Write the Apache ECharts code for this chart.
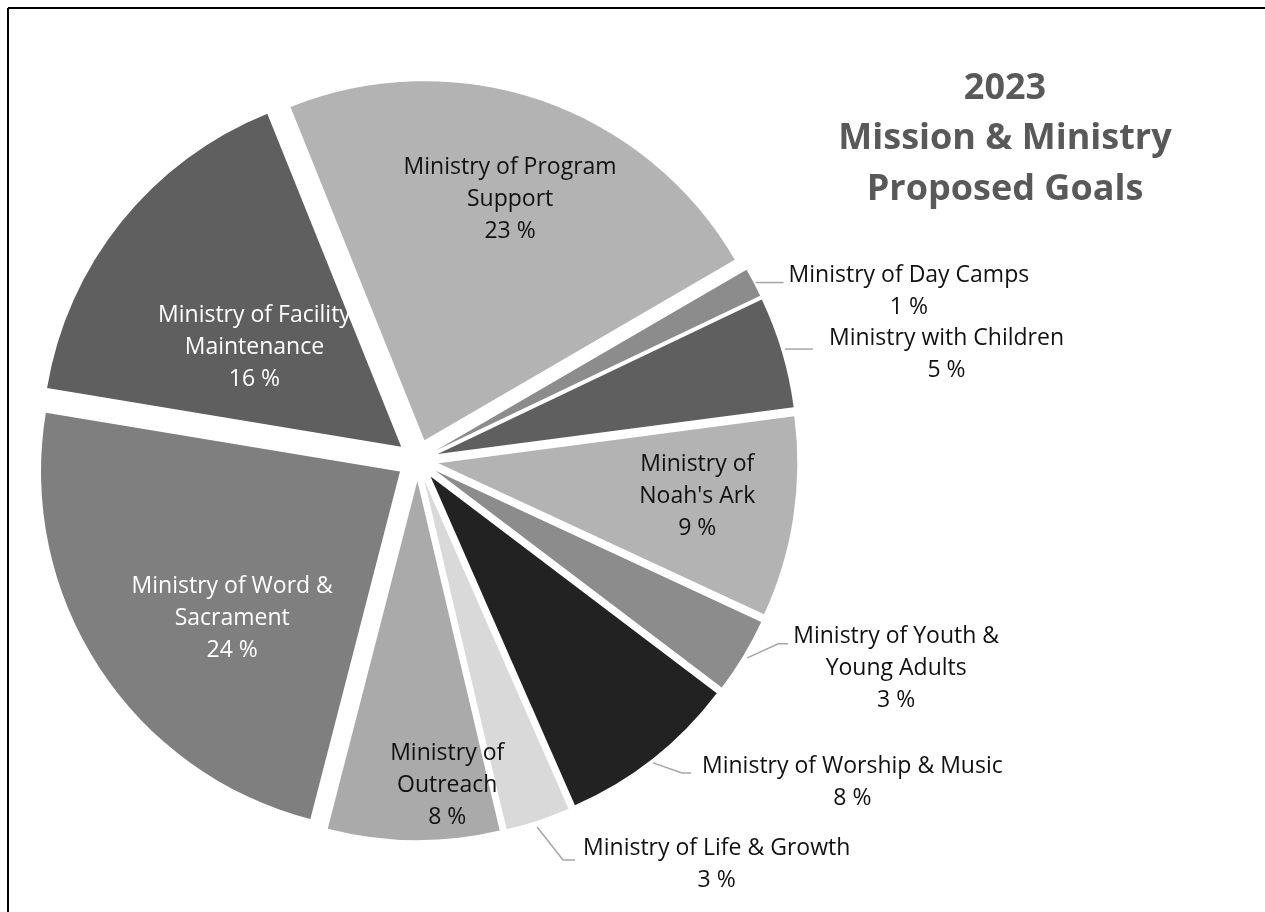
<!DOCTYPE html>
<html>
<head>
<meta charset="utf-8">
<script src="https://cdn.jsdelivr.net/npm/echarts@6/dist/echarts.min.js"></script>
<style>
html,body{margin:0;padding:0;background:#fff;}
#chart{width:1265px;height:912px;}
</style>
</head>
<body>
<div id="chart"></div>
<script>
// ---------- data ----------
const categories = [
  'Ministry of Program Support',
  'Ministry of Day Camps',
  'Ministry with Children',
  "Ministry of Noah's Ark",
  'Ministry of Youth & Young Adults',
  'Ministry of Worship & Music',
  'Ministry of Life & Growth',
  'Ministry of Outreach',
  'Ministry of Word & Sacrament',
  'Ministry of Facility Maintenance'
];
const values = [22.7, 1.3, 5.0, 9.0, 3.4, 8.1, 2.9, 7.7, 23.6, 16.3];
const labelLines = [
  'Ministry of Program\nSupport',
  'Ministry of Day Camps',
  'Ministry with Children',
  "Ministry of\nNoah's Ark",
  'Ministry of Youth &\nYoung Adults',
  'Ministry of Worship & Music',
  'Ministry of Life & Growth',
  'Ministry of\nOutreach',
  'Ministry of Word &\nSacrament',
  'Ministry of Facility\nMaintenance'
];
const titleLines = ['2023', 'Mission & Ministry', 'Proposed Goals'];

// ---------- styling / layout ----------
const sliceColors = ['#b3b3b3','#8c8c8c','#5f5f5f','#b3b3b3','#8c8c8c','#222222','#d9d9d9','#aaaaaa','#7f7f7f','#5f5f5f'];
const labelColors = ['#111','#111','#111','#111','#111','#111','#111','#111','#fff','#fff'];
const PIE = { cx: 417.6, cy: 460, r: 359, explode: 21, startAngle: 111.9 };
const FONT = 'Open Sans';
// inside labels: [distance along bisector from slice apex, sideways offset]
const insidePlacement = { 0: [255, -3], 3: [261, 6], 7: [304, 33], 8: [221, 32], 9: [177, 14] };
// outside labels: offsets from the outer arc point on the bisector
const outsidePlacement = {
  1: { start: [2, 0],   elbow: [2, 0],    end: [30, 0],    textLeft: 35, textMid: 8.5 },
  2: { start: [3, -3],  elbow: [3, -3],   end: [31, -3],   textLeft: 47, textMid: 2 },
  4: { start: [4, 2],   elbow: [35, -12], end: [45, -12],  textLeft: 50, textMid: 12.7 },
  5: { start: [0, 4.6], elbow: [29, 14.6],end: [38, 14.6], textLeft: 49, textMid: 24 },
  6: { start: [-1, 6.6],elbow: [25, 39.6],end: [37, 39.6], textLeft: 45, textMid: 43.6 }
};

// ---------- geometry derived from the data ----------
const total = values.reduce((a, b) => a + b, 0);
const RAD = Math.PI / 180;
const mids = [];
(function () {
  let cum = 0;
  values.forEach(v => { mids.push((PIE.startAngle - 360 * (cum + v / 2) / total) * RAD); cum += v; });
})();
const unit = i => [Math.cos(mids[i]), -Math.sin(mids[i])];
const apex = i => { const u = unit(i); return [PIE.cx + PIE.explode * u[0], PIE.cy + PIE.explode * u[1]]; };

function layoutLabel(k, params) {
  if (params.dataIndex !== k) return {};
  const u = unit(k), a = apex(k);
  const w = params.labelRect.width;
  if (insidePlacement[k]) {
    const [along, across] = insidePlacement[k];
    const p = [u[1], -u[0]];
    return {
      x: a[0] + along * u[0] + across * p[0],
      y: a[1] + along * u[1] + across * p[1],
      align: 'center', verticalAlign: 'middle'
    };
  }
  const o = outsidePlacement[k];
  const A = [a[0] + PIE.r * u[0], a[1] + PIE.r * u[1]];
  const pts = [o.start, o.elbow, o.end].map(d => [A[0] + d[0], A[1] + d[1]]);
  return {
    x: A[0] + o.textLeft + w / 2,
    y: A[1] + o.textMid,
    align: 'center', verticalAlign: 'middle',
    labelLinePoints: pts
  };
}

const series = values.map((_, k) => ({
  type: 'pie',
  center: apex(k),
  radius: PIE.r,
  startAngle: PIE.startAngle,
  clockwise: true,
  avoidLabelOverlap: false,
  silent: true,
  animation: false,
  percentPrecision: 0,
  z: 2,
  itemStyle: { borderWidth: 0 },
  emphasis: { disabled: true },
  labelLine: { show: false, lineStyle: { color: '#a6a6a6', width: 1.5 }, length: 0, length2: 20 },
  label: {
    show: false,
    fontFamily: FONT,
    fontSize: 23,
    lineHeight: 32,
    align: 'center',
    formatter: p => labelLines[p.dataIndex] + '\n' + p.percent + ' %'
  },
  data: values.map((v, j) => ({
    name: categories[j],
    value: v,
    itemStyle: { color: j === k ? sliceColors[j] : 'rgba(0,0,0,0)', borderWidth: 0 },
    label: {
      show: j === k,
      position: insidePlacement[j] ? 'inside' : 'outside',
      color: labelColors[j]
    },
    labelLine: { show: j === k && !insidePlacement[j] }
  })),
  labelLayout: params => layoutLabel(k, params)
}));

const chart = echarts.init(document.getElementById('chart'), null, { renderer: 'canvas' });
chart.setOption({
  animation: false,
  backgroundColor: '#ffffff',
  title: {
    text: titleLines.join('\n'),
    left: 1005,
    top: 63,
    padding: 0,
    textAlign: 'center',
    textStyle: { fontFamily: FONT, fontWeight: 'bold', fontSize: 36, lineHeight: 50.5, color: '#595959' }
  },
  graphic: [
    { type: 'line', shape: { x1: 8, y1: 8, x2: 1265, y2: 8 }, style: { stroke: '#000', lineWidth: 2 }, silent: true },
    { type: 'line', shape: { x1: 8, y1: 8, x2: 8, y2: 912 }, style: { stroke: '#000', lineWidth: 2 }, silent: true }
  ],
  series: series
});
</script>
</body>
</html>
